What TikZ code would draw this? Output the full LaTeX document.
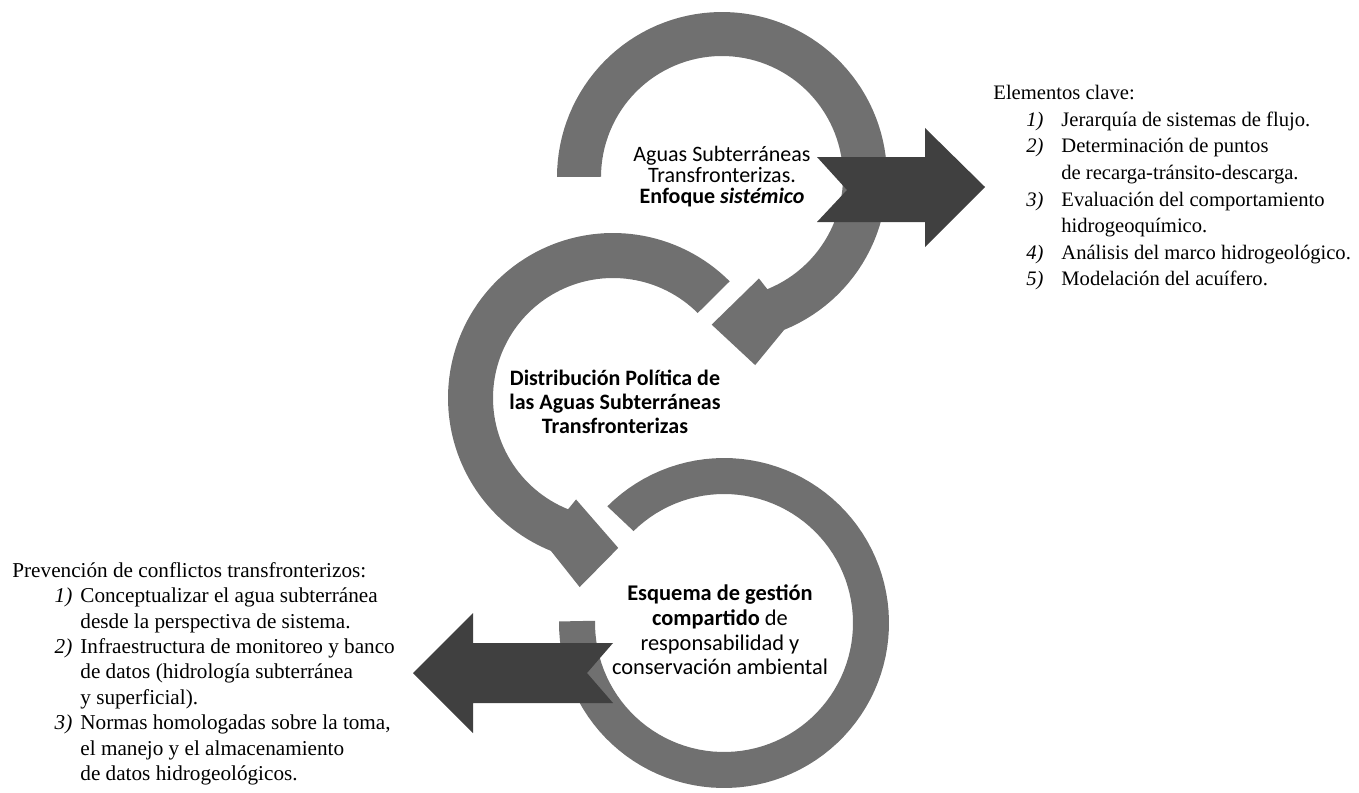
\documentclass[tikz,border=0pt]{standalone}
\usepackage{fontspec}
\setmainfont{Liberation Serif}
\newfontfamily\calfont{Carlito}
\definecolor{ringgray}{RGB}{112,112,112}
\definecolor{darkarrow}{RGB}{64,64,64}
\newcommand{\itmR}[1]{\hspace*{25pt}\makebox[0pt][r]{\textit{#1}}\hspace*{9pt}}
\newcommand{\cntR}{\hspace*{34pt}}
\newcommand{\itmL}[1]{\hspace*{30pt}\makebox[0pt][r]{\textit{#1}}\hspace*{4pt}}
\newcommand{\cntL}{\hspace*{34pt}}
\begin{document}
\begin{tikzpicture}[x=0.5pt,y=-0.5pt,
  ring/.style={fill=ringgray},
  darrow/.style={fill=darkarrow},
  lbl/.style={font=\calfont\fontsize{11}{12}\selectfont, align=center, inner sep=0pt, text=black},
  lst/.style={align=left, inner sep=0pt, anchor=north west, text=black}]
\useasboundingbox (0,0) rectangle (1359,792);

% top ring
\fill[ring] plot[domain=0:1,samples=90] ({722+165*cos(180+248*\x)},{177+165*sin(180+248*\x)})
  -- ({722+191*cos(440)},{177+191*sin(440)})
  -- ({722+148*cos(454)},{177+148*sin(454)})
  -- ({722+108*cos(430)},{177+108*sin(430)})
  -- plot[domain=0:1,samples=90] ({722+121*cos(428-248*\x)},{177+121*sin(428-248*\x)}) -- cycle;

% middle ring
\fill[ring] plot[domain=0:1,samples=90] ({613+165*cos(315-203*\x)},{398+165*sin(315-203*\x)})
  -- ({613+192*cos(100)},{398+192*sin(100)})
  -- ({613+150*cos(88)},{398+150*sin(88)})
  -- ({613+108*cos(110)},{398+108*sin(110)})
  -- plot[domain=0:1,samples=90] ({613+120*cos(112+203*\x)},{398+120*sin(112+203*\x)}) -- cycle;

% bottom ring
\fill[ring] plot[domain=0:1,samples=100] ({724+165*cos(225+316*\x)},{623+165*sin(225+316*\x)})
  -- plot[domain=0:1,samples=100] ({724+129*cos(541-316*\x)},{623+129*sin(541-316*\x)}) -- cycle;

% dark arrows
\fill[darrow] (817,157) -- (925,157) -- (925,128) -- (985,187) -- (925,247) -- (925,222) -- (817,222) -- (847,190) -- cycle;
\fill[darrow] (413,673) -- (473,613) -- (473,643) -- (613,643) -- (587,673) -- (613,703) -- (473,703) -- (473,733) -- cycle;

% labels
\node[lbl, font=\calfont\fontsize{11}{10.5}\selectfont] (t1) at (722,177) {Aguas Subterráneas\\Transfronterizas.\\\textbf{Enfoque \textit{sistémico}}};
\node[lbl, font=\calfont\bfseries\fontsize{11}{12}\selectfont] (t2) at (615,402) {Distribución Política de\\las Aguas Subterráneas\\Transfronterizas};
\node[lbl, font=\calfont\fontsize{11.2}{12.3}\selectfont] (t3) at (720,630) {\textbf{Esquema de gestión}\\\textbf{compartido} de\\responsabilidad y\\conservación ambiental};

% lists
\node[lst, font=\fontsize{10.3}{13.3}\selectfont] (keys) at (993,85) {Elementos clave:\\
\itmR{1)}Jerarquía de sistemas de flujo.\\
\itmR{2)}Determinación de puntos\\
\cntR de recarga-tránsito-descarga.\\
\itmR{3)}Evaluación del comportamiento\\
\cntR hidrogeoquímico.\\
\itmR{4)}Análisis del marco hidrogeológico.\\
\itmR{5)}Modelación del acuífero.};

\node[lst, font=\fontsize{10.6}{12.7}\selectfont] (prev) at (12,562) {Prevención de conflictos transfronterizos:\\
\itmL{1)}Conceptualizar el agua subterránea\\
\cntL desde la perspectiva de sistema.\\
\itmL{2)}Infraestructura de monitoreo y banco\\
\cntL de datos (hidrología subterránea\\
\cntL y superficial).\\
\itmL{3)}Normas homologadas sobre la toma,\\
\cntL el manejo y el almacenamiento\\
\cntL de datos hidrogeológicos.};
\end{tikzpicture}
\end{document}
